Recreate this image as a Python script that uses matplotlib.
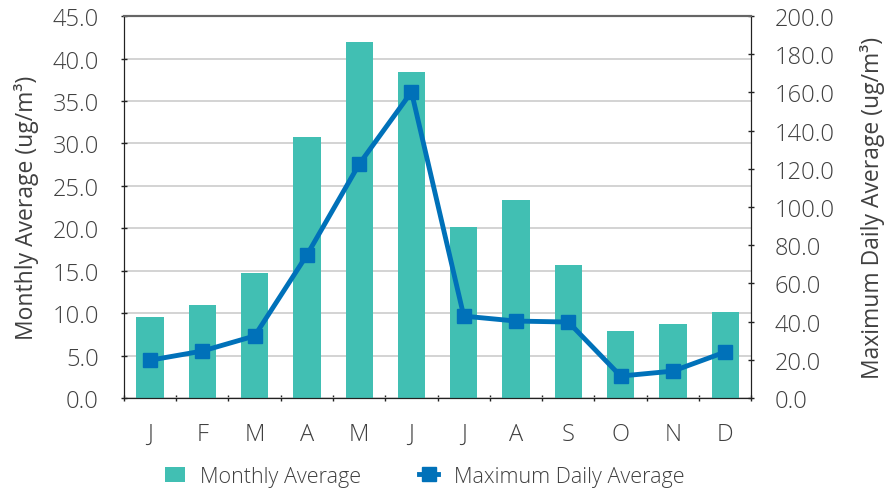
import numpy as np
import matplotlib
matplotlib.use("Agg")
import matplotlib.pyplot as plt

plt.rcParams['font.family'] = ['Open Sans', 'DejaVu Sans']
plt.rcParams['font.weight'] = 'light'

# datos
months = ['J', 'F', 'M', 'A', 'M', 'J', 'J', 'A', 'S', 'O', 'N', 'D']
monthly_avg = [9.5, 11.0, 14.7, 30.8, 41.9, 38.4, 20.1, 23.3, 15.7, 7.9, 8.7, 10.1]
max_daily_avg = [19.8, 24.6, 32.5, 74.9, 122.5, 160.3, 42.9, 40.3, 39.8, 11.5, 14.1, 24.1]

text_col = '#404040'
bar_col = '#41BFB3'
line_col = '#0071B9'
fs = 17

fig = plt.figure(figsize=(8.85, 4.89), dpi=100)
ax = fig.add_axes([0.140, 0.184, 0.709, 0.781])
ax2 = ax.twinx()

x = np.arange(len(months))
b = ax.bar(x, monthly_avg, width=0.52, color=bar_col, zorder=2, label='Monthly Average')
l, = ax2.plot(x, max_daily_avg, color=line_col, lw=3.5, marker='s', markersize=10,
              label='Maximum Daily Average', zorder=3)

ax.set_xlim(-0.5, 11.5)
ax.set_ylim(0, 45)
ax2.set_ylim(0, 200)
ax.set_yticks(np.arange(0, 45.1, 5))
ax.set_yticklabels([f'{v:.1f}' for v in np.arange(0, 45.1, 5)])
ax2.set_yticks(np.arange(0, 200.1, 20))
ax2.set_yticklabels([f'{v:.1f}' for v in np.arange(0, 200.1, 20)])

ax.set_xticks(x)
ax.set_xticklabels(months)
ax.set_xticks(np.arange(-0.5, 12, 1), minor=True)
ax.tick_params(axis='x', which='major', length=0, pad=17)
ax.tick_params(axis='x', which='minor', length=5, direction='inout', width=1, color='#222222')

ax.grid(axis='y', color='#cccccc', lw=1.2, zorder=0)
ax.set_axisbelow(True)
for a in (ax, ax2):
    a.spines['left'].set_color('#222222')
    a.spines['right'].set_color('#222222')
    a.spines['bottom'].set_color('#222222')
    a.spines['top'].set_color('#666666')
    a.spines['top'].set_linewidth(1.5)
    a.tick_params(axis='y', length=5, direction='inout', width=1, color='#222222',
                  labelsize=fs, labelcolor=text_col)
ax.tick_params(axis='y', pad=15.5)
ax2.tick_params(axis='y', pad=14.5)
ax.tick_params(axis='x', labelsize=fs, labelcolor=text_col)

ax.set_ylabel('Monthly Average (ug/m³)', fontsize=16.5, color=text_col, labelpad=10)
ax2.set_ylabel('Maximum Daily Average (ug/m³)', fontsize=16.5, color=text_col, labelpad=18)

fig.legend([b, l], ['Monthly Average', 'Maximum Daily Average'], loc='center',
           bbox_to_anchor=(0.480, 0.024), ncol=2, frameon=False, fontsize=15.5,
           labelcolor=text_col, columnspacing=2.7, handlelength=0.9, handletextpad=0.7,
           borderpad=0, borderaxespad=0)

fig.savefig('out.png', dpi=100)
